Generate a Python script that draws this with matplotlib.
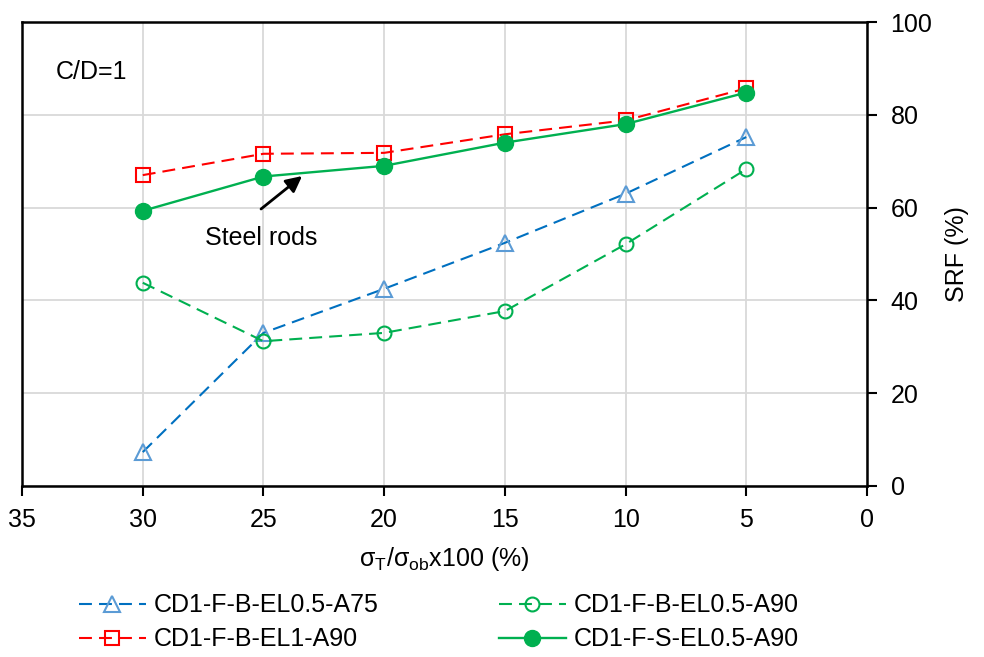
import matplotlib
matplotlib.use("Agg")
import matplotlib.pyplot as plt

plt.rcParams['font.family'] = ['Liberation Sans', 'DejaVu Sans']
plt.rcParams['mathtext.fontset'] = 'custom'
plt.rcParams['mathtext.rm'] = 'Liberation Sans'
plt.rcParams['mathtext.it'] = 'Liberation Sans'

# data
x = [30, 25, 20, 15, 10, 5]
srf_a75 = [7.3, 33.0, 42.5, 52.4, 63.0, 75.2]
srf_a90 = [43.8, 31.2, 33.0, 37.7, 52.1, 68.3]
srf_el1 = [67.0, 71.6, 71.8, 75.8, 78.8, 85.7]
srf_steel = [59.3, 66.7, 69.0, 74.0, 78.0, 84.8]

labels = ['CD1-F-B-EL0.5-A75', 'CD1-F-B-EL0.5-A90',
          'CD1-F-B-EL1-A90', 'CD1-F-S-EL0.5-A90']
xticks = [35, 30, 25, 20, 15, 10, 5, 0]
yticks = [0, 20, 40, 60, 80, 100]

FS = 18

fig = plt.figure(figsize=(9.84, 6.57), dpi=100)
ax = fig.add_axes([0.0224, 0.2603, 0.8587, 0.7062])

dash = (0, (6.2, 3.4))
l1, = ax.plot(x, srf_a75, color='#0070C0', ls=dash, lw=1.5, marker='^', ms=11,
              mfc='none', mec='#5B9BD5', mew=1.5, label=labels[0])
l3, = ax.plot(x, srf_el1, color='#FF0000', ls=dash, lw=1.5, marker='s', ms=10,
              mfc='none', mec='#FF0000', mew=1.5, label=labels[2])
l2, = ax.plot(x, srf_a90, color='#00B050', ls=dash, lw=1.5, marker='o', ms=10,
              mfc='none', mec='#00B050', mew=1.5, label=labels[1])
l4, = ax.plot(x, srf_steel, color='#00B050', ls='-', lw=1.7, marker='o', ms=11.5,
              mfc='#00B050', mec='#00B050', label=labels[3])

ax.set_xlim(35, 0)
ax.set_ylim(0, 100)
ax.set_xticks(xticks)
ax.set_yticks(yticks)
ax.grid(True, color='#D9D9D9', lw=1.3)
ax.set_axisbelow(True)
for s in ax.spines.values():
    s.set_color('black')
    s.set_linewidth(1.8)

ax.yaxis.tick_right()
ax.yaxis.set_label_position('right')
ax.tick_params(axis='x', direction='out', length=7, width=1.5, labelsize=FS, pad=9)
ax.tick_params(axis='y', direction='out', length=7, width=1.5, labelsize=FS, pad=10)
ax.tick_params(axis='y', left=False)

ax.set_xlabel(r'$\mathregular{σ_T/σ_{ob}}$x100 (%)', fontsize=FS, labelpad=9)
ax.set_ylabel('SRF (%)', fontsize=FS, labelpad=9)

ax.text(33.6, 89.2, 'C/D=1', fontsize=FS, va='center', ha='left')
ax.text(25.1, 53.4, 'Steel rods', fontsize=FS, ha='center', va='center')
ax.annotate('', xy=(23.4, 66.8), xytext=(25.1, 59.7),
            arrowprops=dict(arrowstyle='-|>', color='black', lw=2,
                            mutation_scale=24, shrinkA=0, shrinkB=0))

fig.legend([l1, l3, l2, l4],
           [labels[0], labels[2], labels[1], labels[3]],
           ncol=2, loc='upper left', bbox_to_anchor=(0.080, 0.097),
           frameon=False, fontsize=FS, handlelength=2.7, columnspacing=4.8,
           labelspacing=0.4, handletextpad=0.3, borderpad=0, borderaxespad=0)

fig.savefig('out.png', dpi=100)
